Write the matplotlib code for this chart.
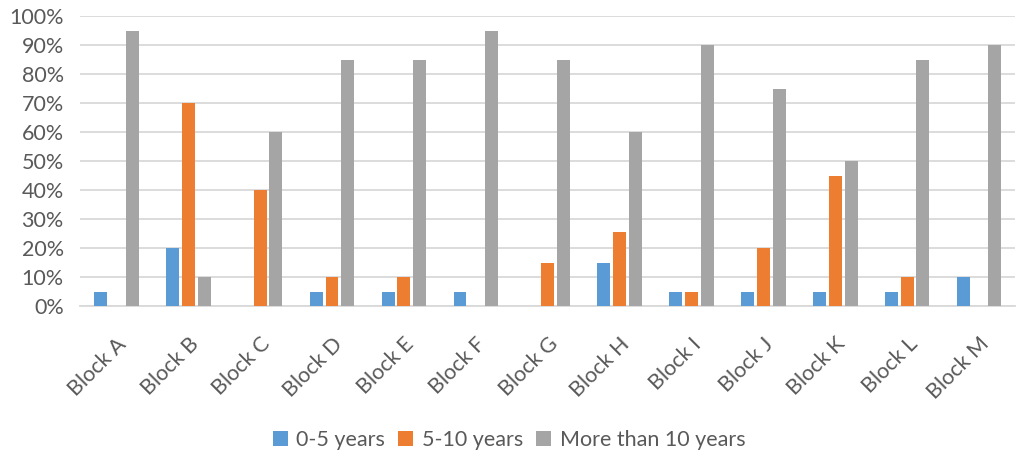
import matplotlib
matplotlib.use("Agg")
import matplotlib.pyplot as plt
import numpy as np
from matplotlib.ticker import PercentFormatter

plt.rcParams['font.family'] = ['Lato', 'DejaVu Sans']

blocks = ['Block A', 'Block B', 'Block C', 'Block D', 'Block E', 'Block F', 'Block G',
          'Block H', 'Block I', 'Block J', 'Block K', 'Block L', 'Block M']
years_0_5 = [5, 20, 0, 5, 5, 5, 0, 15, 5, 5, 5, 5, 10]
years_5_10 = [0, 70, 40, 10, 10, 0, 15, 25.5, 5, 20, 45, 10, 0]
years_10_plus = [95, 10, 60, 85, 85, 95, 85, 60, 90, 75, 50, 85, 90]

series = [('0-5 years', years_0_5, '#5B9BD5'),
          ('5-10 years', years_5_10, '#ED7D31'),
          ('More than 10 years', years_10_plus, '#A5A5A5')]

text_col = '#595959'
fig = plt.figure(figsize=(10.18, 4.59), dpi=100)
ax = fig.add_axes([0.079, 0.333, 0.918, 0.632])

x = np.arange(len(blocks))
width = 0.18
step = 0.22
for i, (name, vals, col) in enumerate(series):
    ax.bar(x + (i - 1) * step, vals, width, color=col, label=name, zorder=3)

ax.set_xlim(-0.5, len(blocks) - 0.5)
ax.set_ylim(0, 100)
ax.set_yticks(range(0, 101, 10))
ax.yaxis.set_major_formatter(PercentFormatter(decimals=0))
ax.grid(axis='y', color='#D9D9D9', linewidth=1.3, zorder=0)
for s in ['top', 'right', 'left']:
    ax.spines[s].set_visible(False)
ax.spines['bottom'].set_color('#D9D9D9')
ax.spines['bottom'].set_linewidth(1.3)
ax.tick_params(axis='both', length=0, colors=text_col, labelsize=15.5)
ax.tick_params(axis='y', pad=12)
ax.tick_params(axis='x', pad=20)
ax.set_xticks(x)
ax.set_xticklabels(blocks, rotation=45, ha='right', rotation_mode='anchor')

fig.legend(loc='lower center', bbox_to_anchor=(0.5, -0.022), ncol=3, frameon=False,
           fontsize=15.5, handlelength=0.7, handleheight=0.7, handletextpad=0.4,
           columnspacing=0.6, labelcolor=text_col)

fig.savefig('out.png', dpi=100)
